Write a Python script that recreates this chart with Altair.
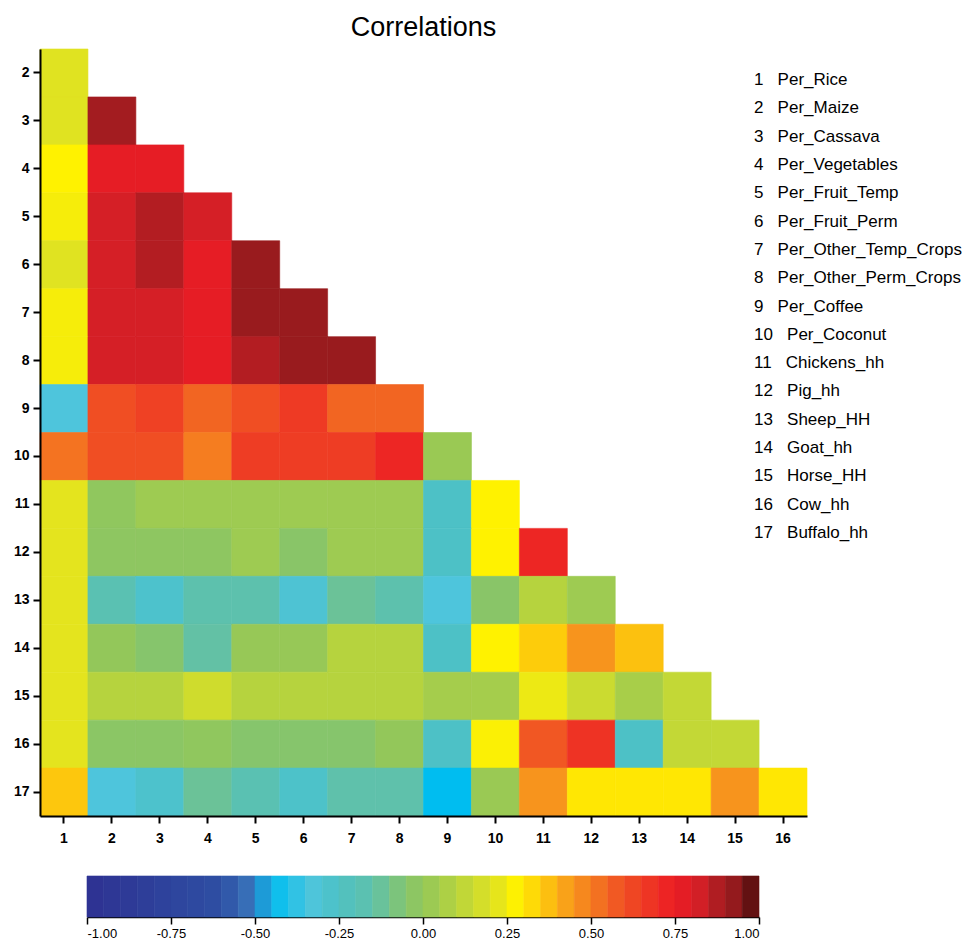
import altair as alt
import pandas as pd

title_text = "Correlations"

var_numbers = list(range(1, 18))
var_names = [
    "Per_Rice", "Per_Maize", "Per_Cassava", "Per_Vegetables", "Per_Fruit_Temp",
    "Per_Fruit_Perm", "Per_Other_Temp_Crops", "Per_Other_Perm_Crops", "Per_Coffee",
    "Per_Coconut", "Chickens_hh", "Pig_hh", "Sheep_HH", "Goat_hh", "Horse_HH",
    "Cow_hh", "Buffalo_hh",
]

x_labels = list(range(1, 17))
y_labels = list(range(2, 18))

# lower-triangle correlations, one list per row (columns 1 .. row-1)
corr_row_2 = [0.21]
corr_row_3 = [0.21, 0.90]
corr_row_4 = [0.28, 0.77, 0.77]
corr_row_5 = [0.26, 0.82, 0.87, 0.82]
corr_row_6 = [0.21, 0.82, 0.87, 0.77, 0.92]
corr_row_7 = [0.26, 0.82, 0.82, 0.77, 0.92, 0.92]
corr_row_8 = [0.26, 0.82, 0.82, 0.77, 0.87, 0.92, 0.92]
corr_row_9 = [-0.33, 0.60, 0.64, 0.55, 0.60, 0.66, 0.55, 0.55]
corr_row_10 = [0.52, 0.60, 0.60, 0.50, 0.65, 0.65, 0.65, 0.72, 0.02]
corr_row_11 = [0.22, -0.01, 0.03, 0.03, 0.03, 0.03, 0.03, 0.03, -0.26, 0.28]
corr_row_12 = [0.22, -0.02, -0.02, -0.02, 0.03, -0.04, 0.03, 0.03, -0.26, 0.28, 0.72]
corr_row_13 = [0.22, -0.18, -0.28, -0.16, -0.16, -0.30, -0.12, -0.16, -0.33, -0.04, 0.10, 0.03]
corr_row_14 = [0.22, 0.00, -0.05, -0.14, 0.01, 0.01, 0.10, 0.10, -0.26, 0.28, 0.35, 0.45, 0.37]
corr_row_15 = [0.22, 0.10, 0.10, 0.16, 0.10, 0.10, 0.10, 0.10, 0.05, 0.05, 0.24, 0.15, 0.06, 0.13]
corr_row_16 = [0.22, -0.03, -0.03, -0.01, -0.05, -0.05, -0.05, 0.00, -0.26, 0.27, 0.58, 0.68, -0.26, 0.13, 0.13]
corr_row_17 = [0.36, -0.33, -0.28, -0.12, -0.18, -0.27, -0.15, -0.15, -0.45, 0.02, 0.45, 0.30, 0.30, 0.30, 0.45, 0.30]

corr_rows = [corr_row_2, corr_row_3, corr_row_4, corr_row_5, corr_row_6, corr_row_7,
             corr_row_8, corr_row_9, corr_row_10, corr_row_11, corr_row_12, corr_row_13,
             corr_row_14, corr_row_15, corr_row_16, corr_row_17]

# colour palette (jet-like) stops
color_stops = [-1.0, -0.6, -0.5, -0.45, -0.33, -0.26, -0.15, -0.05, 0.0, 0.1, 0.15,
               0.22, 0.28, 0.36, 0.45, 0.55, 0.6, 0.66, 0.75, 0.82, 0.87, 0.92, 1.0]
color_values = ["#2e3192", "#2e4fa3", "#3a78bd", "#00bdf0", "#4ec5dc", "#4dc1c6",
                "#5fc1ab", "#86c56c", "#93c75a", "#b6d33e", "#cbdb30", "#e4e41e",
                "#fff200", "#fdc70d", "#f7941d", "#f26522", "#f04e23", "#ee3a24",
                "#ed1c24", "#d51f26", "#b31d22", "#991b1e", "#4a0d0d"]

colorbar_ticks = [-1.0, -0.75, -0.5, -0.25, 0.0, 0.25, 0.5, 0.75, 1.0]
colorbar_steps = 40

# ---------- build tables ----------
cells = []
for r, vals in zip(y_labels, corr_rows):
    for c, v in enumerate(vals, start=1):
        cells.append({"col": c, "row": r, "r": v})
cells_df = pd.DataFrame(cells)

nb = "\u00a0\u00a0\u00a0"
list_df = pd.DataFrame({
    "idx": var_numbers,
    "label": [f"{n}{nb}{name}" for n, name in zip(var_numbers, var_names)],
})

step = 2.0 / colorbar_steps
cb_df = pd.DataFrame({
    "lo": [-1.0 + i * step for i in range(colorbar_steps)],
    "hi": [-1.0 + (i + 1) * step for i in range(colorbar_steps)],
    "mid": [-1.0 + (i + 0.5) * step for i in range(colorbar_steps)],
})

color_scale = alt.Scale(domain=color_stops, range=color_values, interpolate="rgb")

FONT = "Liberation Sans"

heat = alt.Chart(cells_df).mark_rect(strokeWidth=0.6).encode(
    x=alt.X("col:O", scale=alt.Scale(domain=x_labels, paddingInner=0, paddingOuter=0),
            axis=alt.Axis(title=None, labelAngle=0, labelPadding=8)),
    y=alt.Y("row:O", scale=alt.Scale(domain=y_labels, paddingInner=0, paddingOuter=0),
            axis=alt.Axis(title=None, labelPadding=4)),
    color=alt.Color("r:Q", scale=color_scale, legend=None),
    stroke=alt.Stroke("r:Q", scale=color_scale, legend=None),
)

names = alt.Chart(list_df).mark_text(
    align="left", baseline="middle", fontSize=17, font=FONT, color="black"
).encode(
    x=alt.value(714),
    y=alt.Y("idx:Q", scale=alt.Scale(domain=[-0.095, 26.995], reverse=True, nice=False, zero=False),
            axis=None),
    text="label:N",
)

top = alt.layer(heat, names).resolve_scale(y="independent").properties(
    width=767, height=767,
    title=alt.TitleParams(title_text, fontSize=27, font=FONT, fontWeight="normal",
                          color="black", anchor="middle", offset=7),
)

colorbar = alt.Chart(cb_df).mark_rect(strokeWidth=0.6).encode(
    x=alt.X("lo:Q", scale=alt.Scale(domain=[-1, 1], range=[47, 719], nice=False, zero=False),
            axis=alt.Axis(values=colorbar_ticks, title=None, grid=False,
                          labelExpr="replace(format(datum.value, '.2f'), '\u2212', '-')",
                          labelFontSize=13, labelFontWeight="normal", labelPadding=3,
                          domainWidth=1.5, tickWidth=1.5)),
    x2="hi:Q",
    color=alt.Color("mid:Q", scale=color_scale, legend=None),
    stroke=alt.Stroke("mid:Q", scale=color_scale, legend=None),
).properties(width=767, height=41)

chart = alt.vconcat(top, colorbar, spacing=30).properties(
    padding={"left": 5, "top": 5, "right": 0, "bottom": 0}
).configure_view(stroke=None).configure_axis(
    domainColor="black", domainWidth=2, tickColor="black", tickWidth=2, tickSize=7,
    labelFont=FONT, labelFontSize=14, labelFontWeight="bold", labelColor="black", grid=False,
)

chart.save("out.html", embed_options={"renderer": "svg", "actions": False})
